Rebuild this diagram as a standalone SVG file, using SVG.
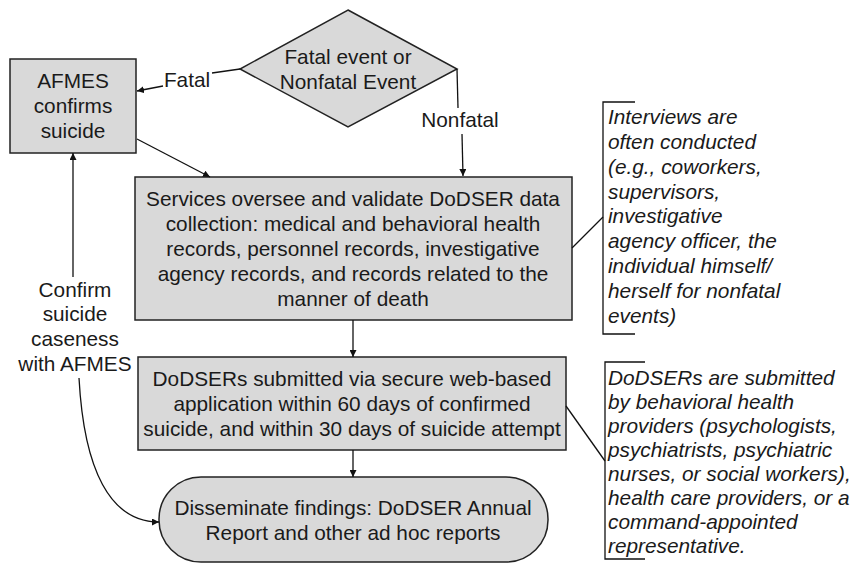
<svg xmlns="http://www.w3.org/2000/svg" width="852" height="565" viewBox="0 0 852 565">
<defs>
<marker id="ah" viewBox="0 0 10 10" refX="10" refY="5" markerWidth="7" markerHeight="7" orient="auto" markerUnits="userSpaceOnUse">
<path d="M0,0 L10,5 L0,10 z" fill="#111"/>
</marker>
<style>
.box{fill:#d9d9d9;stroke:#222;stroke-width:1.5}
.t{font-family:"Liberation Sans",Arial,sans-serif;font-size:20.8px;fill:#1a1a1a}
.c{text-anchor:middle}
.i{font-style:italic}
.ln{fill:none;stroke:#111;stroke-width:1.3}
</style>
</defs>
<rect width="852" height="565" fill="#fff"/>
<g id="decision">
<polygon class="box" points="348,10 457,69 348,127 240,69"/>
<text class="t c" x="348" y="64">Fatal event or</text>
<text class="t c" x="348" y="89">Nonfatal Event</text>
</g>
<g id="afmes">
<rect class="box" x="10" y="59" width="126" height="94"/>
<text class="t c" x="73" y="88">AFMES</text>
<text class="t c" x="73" y="113">confirms</text>
<text class="t c" x="73" y="138">suicide</text>
</g>
<g id="services">
<rect class="box" x="135" y="177" width="437" height="143"/>
<text class="t c" x="353" y="206">Services oversee and validate DoDSER data</text>
<text class="t c" x="353" y="231">collection: medical and behavioral health</text>
<text class="t c" x="353" y="256">records, personnel records, investigative</text>
<text class="t c" x="353" y="281">agency records, and records related to the</text>
<text class="t c" x="353" y="306">manner of death</text>
</g>
<g id="submit">
<rect class="box" x="138" y="357" width="428" height="93"/>
<text class="t c" x="352" y="386">DoDSERs submitted via secure web-based</text>
<text class="t c" x="352" y="411">application within 60 days of confirmed</text>
<text class="t c" x="352" y="436">suicide, and within 30 days of suicide attempt</text>
</g>
<g id="disseminate">
<rect class="box" x="159" y="477" width="389" height="85" rx="42" ry="42"/>
<text class="t c" x="353" y="515">Disseminate findings: DoDSER Annual</text>
<text class="t c" x="353" y="540">Report and other ad hoc reports</text>
</g>
<g id="note1">
<path class="ln" d="M635,102 H603 V334 H635"/>
<text class="t i" x="608" y="124">Interviews are</text>
<text class="t i" x="608" y="149">often conducted</text>
<text class="t i" x="608" y="174">(e.g., coworkers,</text>
<text class="t i" x="608" y="199">supervisors,</text>
<text class="t i" x="608" y="223">investigative</text>
<text class="t i" x="608" y="248">agency officer, the</text>
<text class="t i" x="608" y="273">individual himself/</text>
<text class="t i" x="608" y="298">herself for nonfatal</text>
<text class="t i" x="608" y="323">events)</text>
</g>
<g id="note2">
<path class="ln" d="M645,362 H605 V559 H645"/>
<text class="t i" x="608" y="385">DoDSERs are submitted</text>
<text class="t i" x="608" y="409">by behavioral health</text>
<text class="t i" x="608" y="433">providers (psychologists,</text>
<text class="t i" x="608" y="457">psychiatrists, psychiatric</text>
<text class="t i" x="608" y="481">nurses, or social workers),</text>
<text class="t i" x="608" y="505">health care providers, or a</text>
<text class="t i" x="608" y="529">command-appointed</text>
<text class="t i" x="608" y="553">representative.</text>
</g>
<g id="connectors">
<path class="ln" d="M240,69 L212,73"/>
<text class="t c" x="187" y="87">Fatal</text>
<path class="ln" d="M163,86 L137,91" marker-end="url(#ah)"/>
<path class="ln" d="M457,69 L458,108"/>
<text class="t c" x="460" y="127">Nonfatal</text>
<path class="ln" d="M462,134 L463,176" marker-end="url(#ah)"/>
<path class="ln" d="M137,139 L210,177" marker-end="url(#ah)"/>
<path class="ln" d="M353,320 L353,357" marker-end="url(#ah)"/>
<path class="ln" d="M353,450 L353,477" marker-end="url(#ah)"/>
<path class="ln" d="M73,277 L73,153" marker-end="url(#ah)"/>
<text class="t c" x="75" y="297">Confirm</text>
<text class="t c" x="75" y="321">suicide</text>
<text class="t c" x="75" y="346">caseness</text>
<text class="t c" x="75" y="371">with AFMES</text>
<path class="ln" d="M79,378 C84,470 110,522 159,522" marker-end="url(#ah)"/>
<path class="ln" d="M572,248 L603,217"/>
<path class="ln" d="M566,406 L605,461"/>
</g>
</svg>
